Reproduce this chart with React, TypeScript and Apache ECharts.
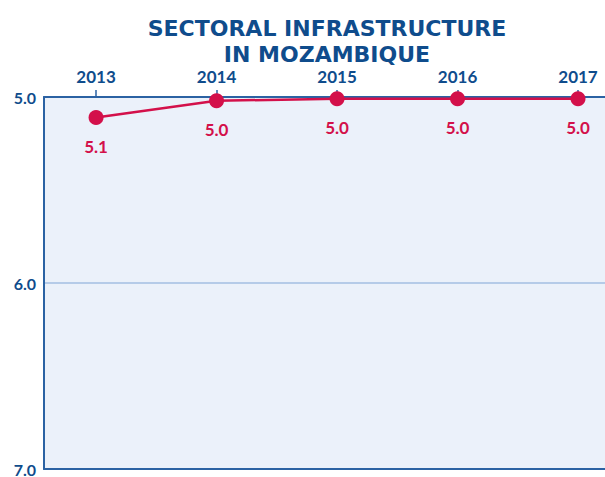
import React, { useEffect, useRef } from "react";
import * as echarts from "echarts";

const years = [2013, 2014, 2015, 2016, 2017];
const values = [5.11, 5.02, 5.01, 5.01, 5.01];
const yTicks = [5, 6, 7];
const titleText = "SECTORAL INFRASTRUCTURE\nIN MOZAMBIQUE";

const DARK = "#0F4C8C";
const RED = "#D3104A";
const FONT = "Lato";

export default function App() {
  const ref = useRef<HTMLDivElement>(null);
  useEffect(() => {
    if (!ref.current) return;
    const chart = echarts.init(ref.current, null, { renderer: "svg" });
    chart.setOption({
      animation: false,
      title: {
        text: titleText,
        left: 322,
        top: 10,
        textAlign: "center",
        textStyle: {
          color: DARK,
          fontFamily: "DejaVu Sans",
          fontWeight: "bold",
          fontSize: 22,
          lineHeight: 26,
        },
      },
      grid: {
        left: 44,
        right: 0,
        top: 97,
        bottom: 8,
        show: true,
        backgroundColor: "#EBF1FA",
        borderWidth: 0,
      },
      xAxis: [
        {
          type: "value",
          position: "top",
          min: 2012.568,
          max: 2017.224,
          axisLine: { show: true, lineStyle: { color: "#2B62A3", width: 2 } },
          axisTick: {
            show: true,
            customValues: years,
            length: 7,
            lineStyle: { color: "#2B62A3", width: 1.5 },
          },
          axisLabel: {
            customValues: years,
            margin: 12,
            color: DARK,
            fontFamily: FONT,
            fontWeight: "bold",
            fontSize: 17,
            formatter: (v: number) => String(Math.round(v)),
          },
          splitLine: { show: false },
        },
        {
          type: "value",
          position: "bottom",
          min: 2012.568,
          max: 2017.224,
          axisLine: { show: true, onZero: false, lineStyle: { color: "#2B62A3", width: 2 } },
          axisTick: { show: false },
          axisLabel: { show: false },
          splitLine: { show: false },
        },
      ],
      yAxis: {
        type: "value",
        inverse: true,
        min: 5,
        max: 7,
        interval: 1,
        axisLine: { show: true, lineStyle: { color: "#2B62A3", width: 2 } },
        axisTick: { show: false },
        axisLabel: {
          margin: 8,
          color: DARK,
          fontFamily: FONT,
          fontWeight: "bold",
          fontSize: 16,
          formatter: (v: number) => (yTicks.includes(v) ? v.toFixed(1) : ""),
        },
        splitLine: { show: true, lineStyle: { color: "#B5CBE8", width: 2 } },
      },
      series: [
        {
          type: "line",
          xAxisIndex: 0,
          data: years.map((y, i) => [y, values[i]]),
          lineStyle: { color: RED, width: 2.5 },
          itemStyle: { color: RED },
          symbol: "circle",
          symbolSize: 15,
          label: {
            show: true,
            position: "bottom",
            distance: 13,
            color: RED,
            fontFamily: FONT,
            fontWeight: "bold",
            fontSize: 17,
            formatter: (p: any) => Number(p.value[1]).toFixed(1),
          },
        },
      ],
    });
    return () => chart.dispose();
  }, []);
  return <div ref={ref} style={{ width: 605, height: 477, position: "absolute", left: 0, top: 0 }} />;
}
